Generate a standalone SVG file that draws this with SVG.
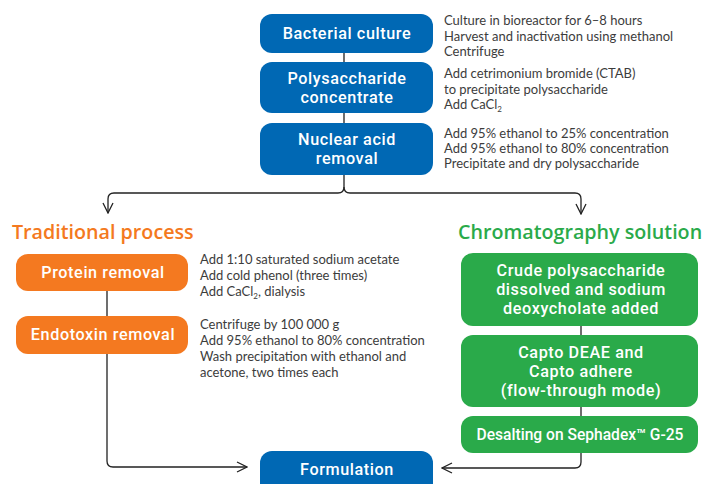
<svg xmlns="http://www.w3.org/2000/svg" width="702" height="484" viewBox="0 0 702 484">
<style>
.blue{fill:#0068b4}
.orange{fill:#f47920}
.green{fill:#2aaa4a}
.lbl{font-family:Roboto,"Liberation Sans",sans-serif;font-weight:500;font-size:16.2px;letter-spacing:0.6px;fill:#fff;text-anchor:middle}
.desc{font-family:Lato,"Liberation Sans",sans-serif;font-size:13px;fill:#3c3c3c}
.head{font-family:"Open Sans","Liberation Sans",sans-serif;font-weight:600;font-size:19.7px}
.ln{fill:none;stroke:#222;stroke-width:1.3}
</style>
<defs>
<marker id="ah" viewBox="0 0 12 12" refX="11" refY="6" markerWidth="12" markerHeight="12" markerUnits="userSpaceOnUse" orient="auto">
<path d="M1,1 L11,6 L1,11" fill="none" stroke="#222" stroke-width="1.3"/>
</marker>
</defs>
<g id="connectors">
<path class="ln" d="M344,53 V62 M344,113 V123"/>
<path class="ln" d="M344,175 V187 Q344,193 338,193 H114 Q108,193 108,199 V213" marker-end="url(#ah)"/>
<path class="ln" d="M344,187 Q344,193 350,193 H575 Q581,193 581,199 V214" marker-end="url(#ah)"/>
<path class="ln" d="M107,291 V316 M107,354 V461 Q107,467 113,467 H247" marker-end="url(#ah)"/>
<path class="ln" d="M581,326 V335 M581,407 V416 M581,453 V462 Q581,468 575,468 H442" marker-end="url(#ah)"/>
</g>
<g id="bacterial-culture">
<rect class="blue" x="260" y="14" width="173" height="39" rx="12"/>
<text class="lbl" x="347" y="39">Bacterial culture</text>
<text class="desc" x="444" y="25">Culture in bioreactor for 6–8 hours<tspan x="444" dy="16">Harvest and inactivation using methanol</tspan><tspan x="444" dy="15">Centrifuge</tspan></text>
</g>
<g id="polysaccharide-concentrate">
<rect class="blue" x="260" y="62" width="173" height="51" rx="12"/>
<text class="lbl" x="347" y="84">Polysaccharide<tspan x="347" dy="19">concentrate</tspan></text>
<text class="desc" x="444" y="78">Add cetrimonium bromide (CTAB)<tspan x="444" dy="16">to precipitate polysaccharide</tspan><tspan x="444" dy="15">Add CaCl</tspan><tspan font-size="8" dy="3">2</tspan></text>
</g>
<g id="nuclear-acid-removal">
<rect class="blue" x="260" y="123" width="173" height="52" rx="12"/>
<text class="lbl" x="347" y="145">Nuclear acid<tspan x="347" dy="19">removal</tspan></text>
<text class="desc" x="444" y="138">Add 95% ethanol to 25% concentration<tspan x="444" dy="15">Add 95% ethanol to 80% concentration</tspan><tspan x="444" dy="15">Precipitate and dry polysaccharide</tspan></text>
</g>
<g id="traditional-process">
<text class="head" x="12" y="239" fill="#f47920">Traditional process</text>
</g>
<g id="protein-removal">
<rect class="orange" x="16" y="254" width="172" height="37" rx="12"/>
<text class="lbl" x="103" y="278">Protein removal</text>
<text class="desc" x="200" y="264">Add 1:10 saturated sodium acetate<tspan x="200" dy="16">Add cold phenol (three times)</tspan><tspan x="200" dy="16">Add CaCl</tspan><tspan font-size="8" dy="3">2</tspan><tspan dy="-3">, dialysis</tspan></text>
</g>
<g id="endotoxin-removal">
<rect class="orange" x="16" y="316" width="172" height="38" rx="12"/>
<text class="lbl" x="103" y="340">Endotoxin removal</text>
<text class="desc" x="200" y="329">Centrifuge by 100 000 g<tspan x="200" dy="16">Add 95% ethanol to 80% concentration</tspan><tspan x="200" dy="16">Wash precipitation with ethanol and</tspan><tspan x="200" dy="16">acetone, two times each</tspan></text>
</g>
<g id="chromatography-solution">
<text class="head" x="458" y="239" fill="#2aaa4a">Chromatography solution</text>
</g>
<g id="crude-polysaccharide">
<rect class="green" x="461" y="253" width="237" height="73" rx="12"/>
<text class="lbl" x="581" y="276">Crude polysaccharide<tspan x="581" dy="19">dissolved and sodium</tspan><tspan x="581" dy="19">deoxycholate added</tspan></text>
</g>
<g id="capto">
<rect class="green" x="461" y="335" width="237" height="72" rx="12"/>
<text class="lbl" x="581" y="358">Capto DEAE and<tspan x="581" dy="19">Capto adhere</tspan><tspan x="581" dy="19">(flow-through mode)</tspan></text>
</g>
<g id="desalting">
<rect class="green" x="461" y="416" width="237" height="37" rx="12"/>
<text class="lbl" x="580" y="440" style="letter-spacing:0;font-size:15.6px">Desalting on Sephadex™ G-25</text>
</g>
<g id="formulation">
<rect class="blue" x="260" y="451" width="173" height="45" rx="12"/>
<text class="lbl" x="347" y="475">Formulation</text>
</g>
</svg>
